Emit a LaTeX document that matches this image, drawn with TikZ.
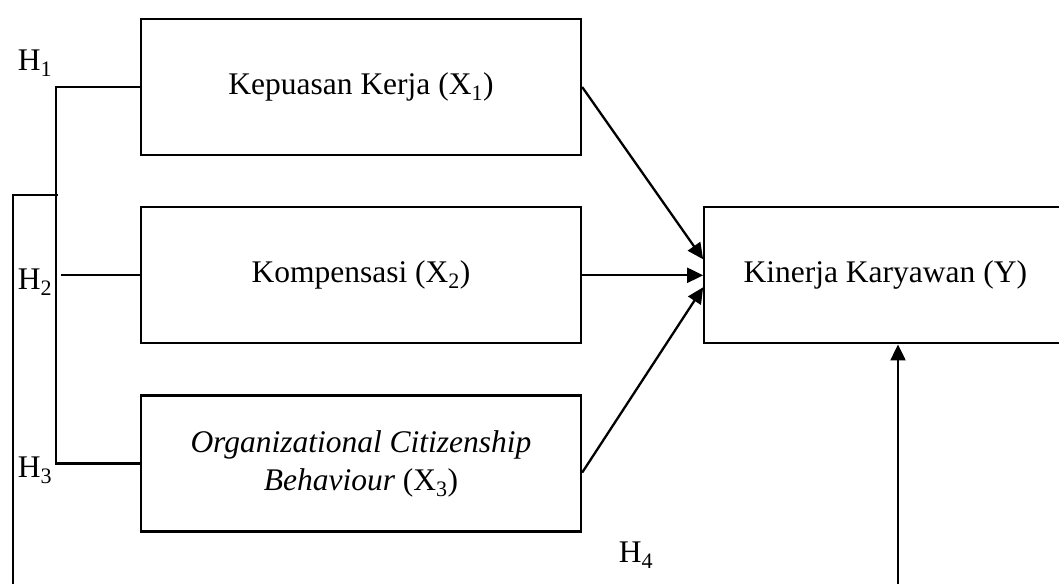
\documentclass[tikz,border=0pt]{standalone}
\usepackage{fontspec}
\setmainfont{Liberation Serif}
\usetikzlibrary{arrows.meta,positioning}

\begin{document}
\begin{tikzpicture}[x=1pt, y=-1pt, line width=2.3pt,
font=\fontsize{31.5}{38}\selectfont,
var/.style = {draw, minimum width=440pt, minimum height=136pt, align=center},
hyp/.style = {inner sep=0pt},
arr/.style = {-{Triangle[length=16pt,width=15pt]}}]
\useasboundingbox (0,0) rectangle (1059,583);
\clip (0,0) rectangle (1059,583);
\node[var] (x1) at (361,87) {Kepuasan Kerja (X\textsubscript{1})};
\node[var, below=50pt of x1] (x2) {Kompensasi (X\textsubscript{2})};
\node[var, below=50pt of x2] (x3) {\textit{Organizational Citizenship}\\\textit{Behaviour} (X\textsubscript{3})};
\node[var, minimum width=362pt, right=121pt of x2] (y) {Kinerja Karyawan (Y)};
\node[hyp] (h1) at (35,63) {H\textsubscript{1}};
\node[hyp] (h2) at (35,282) {H\textsubscript{2}};
\node[hyp] (h3) at (35,470) {H\textsubscript{3}};
\node[hyp] (h4) at (636,555) {H\textsubscript{4}};
\coordinate (j) at (58,195);
\coordinate (b1) at (13,590);
\coordinate (b2) at (898,590);
\draw (x1.west) -- ++(-84,0) |- (x3.west);
\draw (x2.west) -- ++(-79,0);
\draw (j) -| (b1);
\draw[arr] (x1.east) -- ([yshift=16pt]y.west);
\draw[arr] (x2.east) -- (y.west);
\draw[arr] ([yshift=-9pt]x3.east) -- ([yshift=-12pt]y.west);
\draw[arr] (b2) -- (b2 |- y.south);
\end{tikzpicture}
\end{document}
